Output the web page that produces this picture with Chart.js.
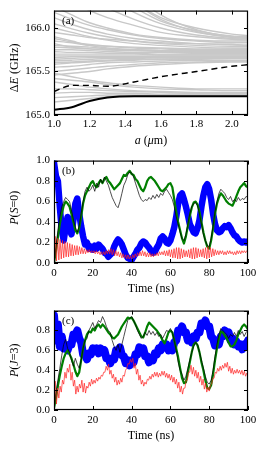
<!DOCTYPE html>
<html>
<head>
<meta charset="utf-8">
<script src="https://cdn.jsdelivr.net/npm/chart.js@4.4.0/dist/chart.umd.min.js"></script>
<style>
  body { margin: 0; background: #fff; }
  .panel { position: absolute; left: 0; width: 266px; }
</style>
</head>
<body>
<div class="panel" style="top:0;height:150px"><canvas id="panelA"></canvas></div>
<div class="panel" style="top:150px;height:150px"><canvas id="panelB"></canvas></div>
<div class="panel" style="top:300px;height:154px"><canvas id="panelC"></canvas></div>
<script>
// ---- panel (a): energy levels vs a ----
const aMicron = [1.0, 1.1, 1.2, 1.3, 1.45, 1.6, 1.8, 2.0, 2.1];
const lowestLevel = [165.06, 165.09, 165.16, 165.20, 165.215, 165.215, 165.215, 165.215, 165.215];
const dashedLevel = [165.27, 165.34, 165.34, 165.33, 165.38, 165.44, 165.50, 165.56, 165.58];
const greyLevels = [
  [168.5, 167.8, 167.2, 166.8, 166.4, 166.15, 165.98, 165.90, 165.89],
  [168.0, 167.4, 166.9, 166.6, 166.3, 166.10, 165.96, 165.89, 165.88],
  [167.5, 167.1, 166.8, 166.55, 166.3, 166.12, 166.00, 165.93, 165.91],
  [167.2, 166.9, 166.65, 166.45, 166.24, 166.08, 165.97, 165.91, 165.90],
  [166.9, 166.7, 166.5, 166.35, 166.18, 166.05, 165.95, 165.90, 165.89],
  [166.6, 166.45, 166.33, 166.23, 166.10, 166.00, 165.92, 165.88, 165.87],
  [166.4, 166.3, 166.2, 166.12, 166.03, 165.95, 165.90, 165.87, 165.86],
  [166.25, 166.15, 166.06, 166.00, 165.93, 165.89, 165.86, 165.85, 165.85],
  [166.18, 166.1, 166.03, 165.98, 165.92, 165.88, 165.85, 165.83, 165.83],
  [166.12, 166.04, 165.98, 165.93, 165.88, 165.85, 165.82, 165.81, 165.80],
  [166.05, 165.99, 165.94, 165.90, 165.85, 165.82, 165.80, 165.79, 165.79],
  [166.00, 165.95, 165.90, 165.86, 165.82, 165.80, 165.78, 165.77, 165.77],
  [165.95, 165.92, 165.89, 165.87, 165.85, 165.83, 165.82, 165.81, 165.80],
  [165.90, 165.85, 165.80, 165.77, 165.75, 165.74, 165.72, 165.72, 165.72],
  [165.88, 165.84, 165.81, 165.79, 165.77, 165.76, 165.75, 165.75, 165.75],
  [165.85, 165.83, 165.80, 165.79, 165.78, 165.77, 165.76, 165.76, 165.76],
  [165.82, 165.78, 165.76, 165.75, 165.74, 165.74, 165.74, 165.74, 165.74],
  [165.80, 165.79, 165.78, 165.76, 165.75, 165.74, 165.73, 165.73, 165.73],
  [165.78, 165.77, 165.76, 165.75, 165.74, 165.73, 165.72, 165.72, 165.72],
  [165.75, 165.75, 165.74, 165.73, 165.72, 165.72, 165.71, 165.71, 165.71],
  [165.73, 165.72, 165.72, 165.71, 165.71, 165.70, 165.70, 165.70, 165.70],
  [165.70, 165.70, 165.70, 165.70, 165.70, 165.69, 165.69, 165.69, 165.69],
  [165.68, 165.68, 165.68, 165.68, 165.68, 165.68, 165.68, 165.68, 165.68],
  [165.66, 165.67, 165.67, 165.67, 165.67, 165.67, 165.67, 165.67, 165.67],
  [165.64, 165.65, 165.66, 165.66, 165.66, 165.665, 165.665, 165.665, 165.665],
  [165.62, 165.63, 165.64, 165.65, 165.65, 165.66, 165.66, 165.66, 165.66],
  [165.60, 165.61, 165.62, 165.63, 165.64, 165.645, 165.65, 165.655, 165.655],
  [165.58, 165.60, 165.61, 165.62, 165.63, 165.64, 165.64, 165.65, 165.65],
  [165.55, 165.56, 165.58, 165.60, 165.61, 165.62, 165.63, 165.63, 165.63],
  [165.50, 165.52, 165.54, 165.56, 165.58, 165.60, 165.61, 165.62, 165.62],
  [165.46, 165.48, 165.50, 165.53, 165.56, 165.58, 165.60, 165.61, 165.61],
  [165.48, 165.44, 165.40, 165.37, 165.34, 165.32, 165.30, 165.30, 165.30],
  [165.42, 165.40, 165.38, 165.35, 165.32, 165.30, 165.29, 165.28, 165.28],
  [165.38, 165.35, 165.32, 165.30, 165.28, 165.27, 165.26, 165.26, 165.26],
  [165.30, 165.30, 165.29, 165.28, 165.27, 165.26, 165.25, 165.25, 165.25],
  [165.25, 165.26, 165.26, 165.25, 165.25, 165.24, 165.24, 165.24, 165.24],
  [165.20, 165.21, 165.22, 165.23, 165.23, 165.23, 165.23, 165.23, 165.23],
  [165.15, 165.17, 165.19, 165.21, 165.22, 165.22, 165.22, 165.22, 165.22]
];

// ---- panel (b): P(S=0) vs time, 1 ns grid (red on a 0.625 ns grid) ----
const blueB = [
  0.98,0.85,0.80,0.55,0.32,0.22,0.35,0.45,0.33,0.28,
  0.42,0.58,0.63,0.48,0.36,0.26,0.18,0.20,0.14,0.16,
  0.13,0.17,0.14,0.18,0.16,0.14,0.10,0.09,0.06,0.08,
  0.10,0.16,0.20,0.23,0.21,0.18,0.13,0.08,0.05,0.04,
  0.03,0.06,0.09,0.13,0.15,0.19,0.21,0.20,0.17,0.15,
  0.12,0.10,0.11,0.15,0.18,0.24,0.26,0.24,0.20,0.19,
  0.22,0.28,0.35,0.45,0.58,0.66,0.68,0.62,0.55,0.47,
  0.38,0.34,0.30,0.29,0.34,0.42,0.55,0.66,0.74,0.77,
  0.72,0.62,0.48,0.38,0.32,0.30,0.31,0.34,0.36,0.35,
  0.37,0.34,0.30,0.27,0.26,0.23,0.21,0.20,0.21,0.20,
  0.21];
const greenB = [
  0.00,0.12,0.25,0.38,0.48,0.56,0.60,0.58,0.55,0.48,
  0.40,0.32,0.29,0.34,0.45,0.58,0.66,0.70,0.74,0.78,
  0.80,0.76,0.74,0.78,0.81,0.78,0.82,0.84,0.80,0.78,
  0.75,0.72,0.74,0.76,0.78,0.82,0.86,0.85,0.88,0.90,
  0.87,0.86,0.82,0.80,0.76,0.72,0.70,0.74,0.80,0.83,
  0.84,0.82,0.80,0.77,0.74,0.71,0.70,0.72,0.74,0.77,
  0.78,0.74,0.62,0.50,0.40,0.32,0.24,0.19,0.26,0.36,
  0.46,0.54,0.59,0.60,0.57,0.50,0.40,0.30,0.22,0.16,
  0.14,0.22,0.34,0.48,0.58,0.64,0.68,0.66,0.63,0.60,
  0.58,0.57,0.56,0.60,0.65,0.70,0.74,0.76,0.78,0.75,
  0.74];
const blackB = [
  0.00,0.15,0.32,0.45,0.55,0.60,0.64,0.62,0.60,0.52,
  0.42,0.35,0.30,0.36,0.48,0.60,0.70,0.74,0.70,0.72,
  0.76,0.70,0.78,0.74,0.82,0.78,0.84,0.80,0.76,0.70,
  0.64,0.60,0.56,0.54,0.60,0.68,0.76,0.80,0.86,0.89,
  0.88,0.84,0.78,0.72,0.66,0.62,0.60,0.62,0.61,0.64,
  0.62,0.66,0.63,0.67,0.64,0.68,0.66,0.70,0.72,0.69,
  0.66,0.62,0.55,0.45,0.38,0.30,0.24,0.22,0.28,0.38,
  0.48,0.55,0.58,0.59,0.56,0.48,0.38,0.28,0.22,0.17,
  0.16,0.24,0.36,0.50,0.60,0.68,0.72,0.70,0.68,0.64,
  0.62,0.65,0.60,0.62,0.60,0.64,0.61,0.63,0.62,0.65,
  0.64];
const redB = [
  0.00,0.26,0.02,0.24,0.03,0.23,0.04,0.22,0.05,0.21,0.06,0.20,0.06,0.19,0.07,0.18,0.07,0.17,0.08,0.17,
  0.08,0.16,0.09,0.15,0.09,0.14,0.09,0.13,0.10,0.13,0.10,0.12,0.10,0.12,0.09,0.12,0.09,0.11,0.08,0.11,
  0.08,0.11,0.08,0.12,0.09,0.13,0.09,0.14,0.08,0.13,0.07,0.12,0.07,0.11,0.06,0.10,0.05,0.09,0.05,0.08,
  0.04,0.08,0.04,0.07,0.04,0.08,0.05,0.09,0.06,0.10,0.07,0.11,0.07,0.12,0.07,0.11,0.06,0.10,0.06,0.10,
  0.06,0.09,0.06,0.09,0.07,0.10,0.07,0.11,0.08,0.11,0.08,0.12,0.07,0.12,0.07,0.13,0.06,0.13,0.05,0.14,
  0.05,0.15,0.04,0.15,0.04,0.14,0.05,0.13,0.06,0.12,0.06,0.13,0.05,0.14,0.04,0.15,0.04,0.15,0.05,0.14,
  0.06,0.13,0.06,0.14,0.05,0.15,0.04,0.16,0.05,0.15,0.06,0.14,0.07,0.13,0.08,0.12,0.08,0.12,0.09,0.12,
  0.08,0.11,0.08,0.12,0.09,0.12,0.09,0.11,0.08,0.11,0.08,0.12,0.09,0.12,0.09,0.12,0.10,0.12,0.10,0.12,
  0.11];

// ---- panel (c): P(J=3) vs time ----
const blueC = [
  0.95,0.70,0.86,0.64,0.74,0.62,0.64,0.60,0.66,0.66,
  0.76,0.76,0.80,0.72,0.68,0.56,0.56,0.51,0.57,0.56,
  0.62,0.59,0.62,0.57,0.62,0.58,0.60,0.52,0.52,0.47,
  0.52,0.51,0.60,0.60,0.63,0.55,0.54,0.47,0.50,0.45,
  0.50,0.48,0.56,0.56,0.63,0.60,0.62,0.54,0.54,0.48,
  0.52,0.50,0.57,0.56,0.62,0.60,0.66,0.63,0.66,0.60,
  0.62,0.60,0.68,0.70,0.80,0.80,0.84,0.78,0.78,0.70,
  0.72,0.68,0.74,0.72,0.78,0.78,0.87,0.86,0.90,0.84,
  0.84,0.74,0.72,0.65,0.68,0.66,0.74,0.74,0.80,0.76,
  0.78,0.70,0.72,0.66,0.69,0.64,0.66,0.61,0.66,0.64,
  0.70];
const greenC = [
  0.02,0.12,0.24,0.35,0.44,0.52,0.57,0.60,0.56,0.52,
  0.46,0.39,0.34,0.38,0.50,0.62,0.70,0.76,0.79,0.78,
  0.82,0.80,0.84,0.86,0.83,0.86,0.84,0.81,0.78,0.76,
  0.73,0.72,0.74,0.76,0.80,0.84,0.87,0.90,0.93,0.92,
  0.93,0.90,0.86,0.82,0.78,0.74,0.73,0.78,0.84,0.88,
  0.86,0.84,0.82,0.80,0.77,0.74,0.70,0.67,0.72,0.78,
  0.80,0.78,0.70,0.62,0.53,0.42,0.32,0.27,0.28,0.38,
  0.48,0.58,0.66,0.68,0.65,0.58,0.48,0.40,0.30,0.22,
  0.21,0.25,0.36,0.50,0.62,0.72,0.79,0.78,0.75,0.72,
  0.68,0.64,0.64,0.66,0.70,0.76,0.80,0.84,0.86,0.84,
  0.81];
const blackC = [
  0.03,0.18,0.30,0.42,0.55,0.66,0.71,0.62,0.58,0.50,
  0.44,0.52,0.46,0.42,0.50,0.62,0.70,0.72,0.80,0.84,
  0.88,0.82,0.86,0.90,0.88,0.94,0.90,0.84,0.80,0.78,
  0.70,0.64,0.60,0.66,0.58,0.66,0.74,0.82,0.90,0.92,
  0.94,0.90,0.86,0.80,0.76,0.72,0.74,0.78,0.75,0.80,
  0.76,0.79,0.75,0.78,0.74,0.76,0.72,0.76,0.80,0.79,
  0.82,0.78,0.70,0.60,0.48,0.40,0.36,0.30,0.34,0.42,
  0.50,0.58,0.64,0.68,0.66,0.58,0.50,0.42,0.34,0.28,
  0.26,0.30,0.40,0.54,0.66,0.76,0.82,0.80,0.78,0.76,
  0.72,0.76,0.74,0.78,0.74,0.80,0.76,0.79,0.74,0.78,
  0.80];
const redC = [
  0.10,0.29,0.06,0.22,0.12,0.24,0.18,0.30,0.26,0.38,0.32,0.42,0.38,0.46,0.30,0.38,0.24,0.30,0.16,0.24,
  0.18,0.26,0.22,0.30,0.18,0.27,0.17,0.24,0.22,0.28,0.24,0.31,0.26,0.30,0.27,0.32,0.29,0.33,0.31,0.35,
  0.34,0.38,0.38,0.44,0.40,0.46,0.36,0.40,0.32,0.36,0.28,0.33,0.25,0.30,0.26,0.32,0.28,0.35,0.34,0.40,
  0.42,0.47,0.46,0.51,0.48,0.52,0.42,0.47,0.36,0.41,0.30,0.35,0.26,0.30,0.24,0.28,0.26,0.31,0.30,0.34,
  0.31,0.36,0.33,0.38,0.34,0.38,0.33,0.37,0.34,0.39,0.35,0.39,0.33,0.37,0.32,0.36,0.30,0.35,0.28,0.33,
  0.26,0.31,0.22,0.28,0.18,0.24,0.16,0.22,0.22,0.30,0.30,0.38,0.38,0.45,0.36,0.43,0.34,0.40,0.32,0.38,
  0.28,0.34,0.25,0.31,0.21,0.27,0.18,0.23,0.19,0.25,0.26,0.32,0.32,0.38,0.37,0.42,0.39,0.44,0.40,0.45,
  0.42,0.47,0.43,0.48,0.39,0.44,0.37,0.42,0.36,0.40,0.37,0.41,0.37,0.40,0.36,0.40,0.35,0.39,0.34,0.37,
  0.35];

Chart.defaults.font.family = '"Liberation Serif", serif';
Chart.defaults.font.size = 11;
Chart.defaults.color = '#000';

function richText(ctx, parts, cx, cy, angle) {
  ctx.save();
  ctx.translate(cx, cy);
  ctx.rotate(angle);
  ctx.textBaseline = 'middle';
  ctx.textAlign = 'left';
  const fontOf = it => (it ? 'italic ' : '') + '12px "Liberation Serif"';
  let w = 0;
  parts.forEach(([s, it]) => { ctx.font = fontOf(it); w += ctx.measureText(s).width; });
  let x = -w / 2;
  parts.forEach(([s, it]) => {
    ctx.font = fontOf(it);
    ctx.fillText(s, x, 0);
    x += ctx.measureText(s).width;
  });
  ctx.restore();
}

// box, inward ticks on all sides, panel tag and axis titles
const paperFrame = {
  id: 'paperFrame',
  afterDatasetsDraw(chart, args, opts) {
    const {ctx, chartArea: a, scales: {x, y}} = chart;
    ctx.save();
    ctx.strokeStyle = '#000';
    ctx.lineWidth = 1;
    ctx.beginPath();
    x.ticks.forEach(t => {
      const px = Math.round(x.getPixelForValue(t.value)) + 0.5;
      ctx.moveTo(px, a.bottom); ctx.lineTo(px, a.bottom - 4);
      ctx.moveTo(px, a.top); ctx.lineTo(px, a.top + 4);
    });
    y.ticks.forEach(t => {
      const py = Math.round(y.getPixelForValue(t.value)) + 0.5;
      ctx.moveTo(a.left, py); ctx.lineTo(a.left + 4, py);
      ctx.moveTo(a.right, py); ctx.lineTo(a.right - 4, py);
    });
    ctx.stroke();
    ctx.lineWidth = 1.2;
    ctx.strokeRect(a.left + 0.5, a.top + 0.5, a.right - a.left - 1, a.bottom - a.top - 1);

    ctx.fillStyle = '#000';
    ctx.font = '11px "Liberation Serif"';
    ctx.textBaseline = 'top';
    ctx.textAlign = 'left';
    ctx.fillText(opts.tag, a.left + 8, a.top + 5);
    richText(ctx, opts.xTitle, (a.left + a.right) / 2, a.bottom + 26, 0);
    richText(ctx, opts.yTitle, 15, (a.top + a.bottom) / 2 + opts.yShift, -Math.PI / 2);
    ctx.restore();
  }
};

function axis(min, max, step, fmt, fitSize, isX, pad) {
  return {
    type: 'linear', min: min, max: max,
    grid: {display: false, drawTicks: false},
    border: {display: false},
    ticks: {stepSize: step, includeBounds: false, padding: pad, callback: fmt},
    afterFit: s => { if (isX) s.height = fitSize; else s.width = fitSize; }
  };
}

function series(xs, ys) {
  return ys.map((v, i) => ({x: xs[i], y: v}));
}

function baseOptions(scales, pad, frame) {
  return {
    responsive: true, maintainAspectRatio: false, animation: false,
    devicePixelRatio: 1,
    layout: {padding: pad},
    plugins: {legend: {display: false}, tooltip: {enabled: false}, paperFrame: frame},
    elements: {point: {radius: 0}, line: {borderJoinStyle: 'round', borderCapStyle: 'round'}},
    scales: scales
  };
}

// panel (a)
const levelSets = [
  {data: series(aMicron, lowestLevel), borderColor: '#000', borderWidth: 2, cubicInterpolationMode: 'monotone'},
  {data: series(aMicron, dashedLevel), borderColor: '#000', borderWidth: 1.4, borderDash: [6, 4], borderCapStyle: 'butt', cubicInterpolationMode: 'monotone'}
].concat(greyLevels.map(g => ({
  data: series(aMicron, g), borderColor: 'rgb(200,200,200)', borderWidth: 1.4, cubicInterpolationMode: 'monotone'
})));

new Chart(document.getElementById('panelA'), {
  type: 'line',
  data: {datasets: levelSets},
  options: baseOptions({
    x: axis(1.0, 2.09, 0.2, v => v.toFixed(1), 35, true, 3),
    y: axis(165.0, 166.2, 0.5, v => v.toFixed(1), 54, false, 4)
  }, {top: 10, right: 18, left: 0, bottom: 0}, {
    tag: '(a)',
    xTitle: [['a', true], [' (', false], ['\u03bc', true], ['m)', false]],
    yTitle: [['\u0394', false], ['E', true], [' (GHz)', false]],
    yShift: 5
  }),
  plugins: [paperFrame]
});

// panels (b) and (c)
const timeNs = blueB.map((_, i) => i);
const timeRed = redB.map((_, i) => i * 0.625);

function dynamics(blue, green, black, red, blueWidth) {
  return [
    {data: series(timeRed, red), borderColor: '#ff2020', borderWidth: 0.7},
    {data: series(timeNs, black), borderColor: '#000', borderWidth: 0.7},
    {data: series(timeNs, green), borderColor: '#007f00', borderWidth: 2.2},
    {data: series(timeNs, blue), borderColor: '#0000ff', borderWidth: blueWidth}
  ];
}

new Chart(document.getElementById('panelB'), {
  type: 'line',
  data: {datasets: dynamics(blueB, greenB, blackB, redB, 6.5)},
  options: baseOptions({
    x: axis(0, 100, 20, v => v, 37, true, 4),
    y: axis(0, 1.0, 0.2, v => v.toFixed(1), 54, false, 4)
  }, {top: 6, right: 18, left: 0, bottom: 0}, {
    tag: '(b)',
    xTitle: [['Time (ns)', false]],
    yTitle: [['P', true], ['(', false], ['S', true], ['=0)', false]],
    yShift: -4
  }),
  plugins: [paperFrame]
});

new Chart(document.getElementById('panelC'), {
  type: 'line',
  data: {datasets: dynamics(blueC, greenC, blackC, redC, 8)},
  options: baseOptions({
    x: axis(0, 100, 20, v => v, 44, true, 4),
    y: axis(0, 1.0, 0.2, v => (v >= 0.99 ? '' : v.toFixed(1)), 54, false, 4)
  }, {top: 5, right: 18, left: 0, bottom: 0}, {
    tag: '(c)',
    xTitle: [['Time (ns)', false]],
    yTitle: [['P', true], ['(', false], ['J', true], ['=3)', false]],
    yShift: 0
  }),
  plugins: [paperFrame]
});
</script>
</body>
</html>
